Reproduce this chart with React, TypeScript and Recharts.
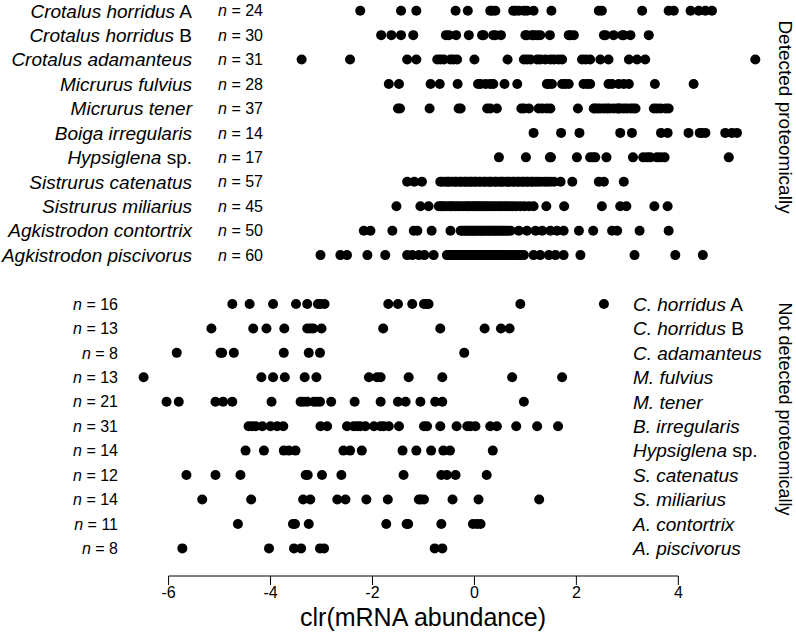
import React from 'react';
import { ScatterChart, Scatter, XAxis, YAxis, ReferenceLine } from 'recharts';

const FONT = '"Liberation Sans", Arial, Helvetica, sans-serif';

// ---------- labels ----------
const topNames: [string, string][] = [
  ['Crotalus horridus', 'A'],
  ['Crotalus horridus', 'B'],
  ['Crotalus adamanteus', ''],
  ['Micrurus fulvius', ''],
  ['Micrurus tener', ''],
  ['Boiga irregularis', ''],
  ['Hypsiglena', 'sp.'],
  ['Sistrurus catenatus', ''],
  ['Sistrurus miliarius', ''],
  ['Agkistrodon contortrix', ''],
  ['Agkistrodon piscivorus', ''],
];
const topN = [24, 30, 31, 28, 37, 14, 17, 57, 45, 50, 60];

const bottomNames: [string, string][] = [
  ['C. horridus', 'A'],
  ['C. horridus', 'B'],
  ['C. adamanteus', ''],
  ['M. fulvius', ''],
  ['M. tener', ''],
  ['B. irregularis', ''],
  ['Hypsiglena', 'sp.'],
  ['S. catenatus', ''],
  ['S. miliarius', ''],
  ['A. contortrix', ''],
  ['A. piscivorus', ''],
];
const bottomN = [16, 13, 8, 13, 21, 31, 14, 12, 14, 11, 8];

const xTicks = [-6, -4, -2, 0, 2, 4];
const xTitle = 'clr(mRNA abundance)';
const topPanelTitle = 'Detected proteomically';
const bottomPanelTitle = 'Not detected proteomically';

// ---------- data: detected proteomically ----------
const crotHorA = [-2.24, -1.44, -1.14, -0.37, -0.13, 0.31, 0.35, 0.41, 0.76, 0.8, 0.87, 0.97, 1.03, 1.16, 1.51, 2.44, 2.5, 3.29, 3.81, 3.91, 4.24, 4.4, 4.53, 4.66];
const crotHorB = [-1.83, -1.63, -1.44, -1.2, -0.56, -0.5, -0.36, -0.11, 0.15, 0.18, 0.37, 0.41, 0.52, 1.0, 1.03, 1.13, 1.16, 1.23, 1.29, 1.48, 1.85, 1.88, 1.95, 2.54, 2.57, 2.73, 2.9, 2.93, 3.06, 3.42];
const crotAdam = [-3.39, -2.44, -1.32, -1.14, -0.73, -0.67, -0.6, -0.47, -0.41, -0.34, 0.0, 0.65, 0.97, 1.03, 1.1, 1.23, 1.29, 1.39, 1.49, 1.56, 1.65, 1.72, 2.11, 2.18, 2.27, 2.47, 2.63, 3.03, 3.19, 3.35, 5.51];
const micFul = [-1.68, -1.48, -0.86, -0.68, -0.33, 0.07, 0.12, 0.22, 0.31, 0.37, 0.59, 0.84, 1.42, 1.46, 1.52, 1.72, 1.78, 1.85, 2.14, 2.21, 2.27, 2.63, 2.7, 2.83, 2.93, 3.03, 3.54, 4.3];
const micTen = [-1.5, -1.46, -0.88, -0.31, -0.27, 0.25, 0.31, 0.44, 0.92, 0.97, 1.07, 1.26, 1.33, 1.42, 1.49, 2.03, 2.34, 2.37, 2.42, 2.47, 2.54, 2.6, 2.65, 2.73, 2.8, 2.83, 2.86, 2.93, 2.99, 3.06, 3.11, 3.16, 3.52, 3.58, 3.65, 3.75, 3.81];
const boiga = [1.16, 1.7, 2.06, 2.86, 3.09, 3.66, 3.79, 4.2, 4.42, 4.46, 4.53, 4.92, 5.05, 5.15];
const hypsi = [0.48, 1.01, 1.48, 1.5, 2.01, 2.27, 2.33, 2.37, 2.59, 3.11, 3.31, 3.39, 3.45, 3.58, 3.65, 3.73, 4.99];
const sisCat = [-1.32, -1.18, -1.03,
  -0.67, -0.63, -0.57, -0.52, -0.5, -0.44, -0.38, -0.35, -0.29, -0.26,
  -0.2, -0.17, -0.12, -0.08, -0.05, 0.01, 0.03, 0.09, 0.12, 0.18,
  0.21, 0.27, 0.31, 0.33, 0.4, 0.42, 0.48, 0.53, 0.55, 0.62,
  0.66, 0.69, 0.75, 0.78, 0.84, 0.87, 0.93, 0.96, 1.02, 1.05,
  1.11, 1.14, 1.2, 1.25, 1.31, 1.38, 1.43, 1.49, 1.56, 1.69,
  1.92, 2.44, 2.54, 2.93];
const sisMil = [-1.53, -1.06, -0.9,
  -0.7, -0.66, -0.62, -0.58, -0.52, -0.47, -0.44, -0.38, -0.33, -0.28,
  -0.22, -0.16, -0.12, -0.07, -0.02, 0.02, 0.07, 0.11, 0.16, 0.21,
  0.25, 0.3, 0.36, 0.41, 0.47, 0.52, 0.58, 0.63, 0.69, 0.75,
  0.82, 0.9, 0.98, 1.07, 1.16,
  1.41, 1.76, 2.5, 2.86, 2.98, 3.53, 3.79];
const agkCon = [-2.17, -2.04, -1.61, -1.19, -1.12, -0.84, -0.47,
  -0.27, -0.24, -0.2, -0.17, -0.14, -0.1, -0.07, -0.04, -0.01, 0.02,
  0.05, 0.09, 0.12, 0.15, 0.18, 0.21, 0.25, 0.28, 0.31, 0.35,
  0.38, 0.41, 0.44, 0.48, 0.51, 0.55, 0.58, 0.62, 0.66, 0.71,
  0.87, 1.03, 1.2, 1.33, 1.49, 1.62, 1.75, 2.05, 2.33, 2.7, 2.8, 3.24, 3.81];
const agkPis = [-3.02, -2.63, -2.5, -2.1, -1.75, -1.32, -1.22, -1.09, -0.98, -0.8,
  -0.54, -0.51, -0.47, -0.44, -0.4, -0.37, -0.33, -0.3, -0.26, -0.23,
  -0.19, -0.16, -0.12, -0.09, -0.05, -0.02, 0.02, 0.05, 0.09, 0.12,
  0.16, 0.19, 0.23, 0.26, 0.3, 0.33, 0.37, 0.4, 0.44, 0.47,
  0.51, 0.54, 0.58, 0.62, 0.66, 0.7, 0.74, 0.79, 0.84, 0.9, 0.97,
  1.16, 1.29, 1.46, 1.59, 1.75, 2.08, 3.14, 3.94, 4.48];

// ---------- data: not detected proteomically ----------
const ndHorA = [-4.75, -4.41, -3.95, -3.5, -3.28, -3.07, -3.02, -2.94, -1.69, -1.5, -1.22, -0.99, -0.94, -0.9, 0.9, 2.54];
const ndHorB = [-5.16, -4.34, -4.08, -3.73, -3.28, -3.22, -3.16, -3.0, -1.79, -0.67, 0.2, 0.52, 0.69];
const ndAdam = [-5.84, -4.98, -4.95, -4.72, -3.74, -3.25, -3.03, -0.2];
const ndFul = [-6.49, -4.18, -3.95, -3.72, -3.33, -3.1, -2.07, -1.91, -1.84, -1.29, -0.63, 0.74, 1.72];
const ndTen = [-6.04, -5.8, -5.08, -4.93, -4.75, -3.98, -3.41, -3.35, -3.28, -3.15, -3.09, -3.03, -2.81, -2.35, -1.84, -1.5, -1.35, -1.06, -0.77, -0.63, 0.97];
const ndBoi = [-4.43, -4.36, -4.29, -4.16, -4.0, -3.87, -3.75, -3.02, -2.89, -2.5, -2.37, -2.3, -2.24, -2.14, -1.97, -1.84, -1.78, -1.68, -1.48, -0.99, -0.93, -0.67, -0.35, -0.14, -0.08, 0.02, 0.31, 0.44, 0.82, 1.23, 1.64];
const ndHyp = [-4.49, -4.13, -3.74, -3.64, -3.51, -2.57, -2.44, -2.21, -1.41, -1.14, -0.85, -0.61, -0.48, 0.36];
const ndCat = [-5.65, -5.08, -4.59, -3.31, -3.27, -2.99, -2.61, -1.39, -0.65, -0.54, -0.37, 0.24];
const ndMil = [-5.34, -4.38, -3.36, -3.22, -2.69, -2.53, -2.12, -1.7, -1.09, -1.05, -0.99, -0.43, 0.08, 1.27];
const ndCon = [-4.64, -3.56, -3.52, -3.25, -1.73, -1.33, -1.3, -0.65, -0.03, 0.05, 0.12];
const ndPis = [-5.73, -4.03, -3.54, -3.4, -3.03, -2.95, -0.78, -0.63];

const topRows = [crotHorA, crotHorB, crotAdam, micFul, micTen, boiga, hypsi, sisCat, sisMil, agkCon, agkPis];
const bottomRows = [ndHorA, ndHorB, ndAdam, ndFul, ndTen, ndBoi, ndHyp, ndCat, ndMil, ndCon, ndPis];

// row index: top panel 0..10, gap at 11, bottom panel 12..22
const rows = [
  ...topRows.map((vals, i) => ({ idx: i, vals })),
  ...bottomRows.map((vals, i) => ({ idx: 12 + i, vals })),
];
const yTicks = rows.map((r) => r.idx);

const Dot = (p: any) => <circle cx={p.cx} cy={p.cy} r={5} fill="#000" />;

const XTick = (props: any) => {
  const { x, y, payload } = props;
  return (
    <text x={x} y={y} dy={11.4} textAnchor="middle" fontSize={16} fontFamily={FONT} fill="#000">
      {String(payload.value)}
    </text>
  );
};

const RowTick = (props: any) => {
  const { y, payload } = props;
  const idx = payload.value as number;
  if (idx <= 10) {
    const [it, up] = topNames[idx];
    return (
      <g>
        <text x={192} y={y} dy={6.8} textAnchor="end" fontSize={19} fontFamily={FONT} fill="#000" style={{ whiteSpace: 'pre' }}>
          <tspan fontStyle="italic">{it}</tspan>
          {up ? <tspan>{' ' + up}</tspan> : null}
        </text>
        <text x={263} y={y} dy={5.7} textAnchor="end" fontSize={16} fontFamily={FONT} fill="#000" style={{ whiteSpace: 'pre' }}>
          <tspan fontStyle="italic">n</tspan>
          <tspan>{' = ' + topN[idx]}</tspan>
        </text>
      </g>
    );
  }
  const j = idx - 12;
  const [it, up] = bottomNames[j];
  return (
    <g>
      <text x={118} y={y} dy={5.7} textAnchor="end" fontSize={16} fontFamily={FONT} fill="#000" style={{ whiteSpace: 'pre' }}>
        <tspan fontStyle="italic">n</tspan>
        <tspan>{' = ' + bottomN[j]}</tspan>
      </text>
      <text x={633} y={y} dy={6.8} textAnchor="start" fontSize={19} fontFamily={FONT} fill="#000" style={{ whiteSpace: 'pre' }}>
        <tspan fontStyle="italic">{it}</tspan>
        {up ? <tspan>{' ' + up}</tspan> : null}
      </text>
    </g>
  );
};

export default function App() {
  return (
    <div style={{ position: 'absolute', left: 0, top: 0, width: 796, height: 644, background: '#fff' }}>
      <ScatterChart width={796} height={644} margin={{ top: 0, right: 31, bottom: 0, left: 0 }}>
        <XAxis
          type="number"
          dataKey="x"
          domain={[-6.6, 5.7]}
          ticks={xTicks}
          axisLine={false}
          tickLine={{ stroke: '#000' }}
          tickSize={9}
          tickMargin={2}
          tick={<XTick />}
          height={68}
          interval={0}
        />
        <YAxis
          type="number"
          dataKey="y"
          domain={[-0.438, 23.13]}
          reversed
          allowDataOverflow
          ticks={yTicks}
          interval={0}
          width={138}
          axisLine={false}
          tickLine={false}
          tick={<RowTick />}
        />
        <ReferenceLine
          segment={[{ x: -6, y: 23.13 }, { x: 4, y: 23.13 }]}
          stroke="#000"
          strokeWidth={1}
          ifOverflow="visible"
        />
        {rows.map((r) => (
          <Scatter
            key={r.idx}
            data={r.vals.map((v) => ({ x: v, y: r.idx }))}
            shape={Dot}
            isAnimationActive={false}
          />
        ))}
      </ScatterChart>
      <svg width={796} height={644} style={{ position: 'absolute', left: 0, top: 0, pointerEvents: 'none' }}>
        <text x={423} y={626} textAnchor="middle" fontSize={25} fontFamily={FONT} fill="#000">{xTitle}</text>
        <text transform="translate(779,117) rotate(90)" textAnchor="middle" fontSize={19} fontFamily={FONT} fill="#000">{topPanelTitle}</text>
        <text transform="translate(779,409) rotate(90)" textAnchor="middle" fontSize={18} fontFamily={FONT} fill="#000">{bottomPanelTitle}</text>
      </svg>
    </div>
  );
}
